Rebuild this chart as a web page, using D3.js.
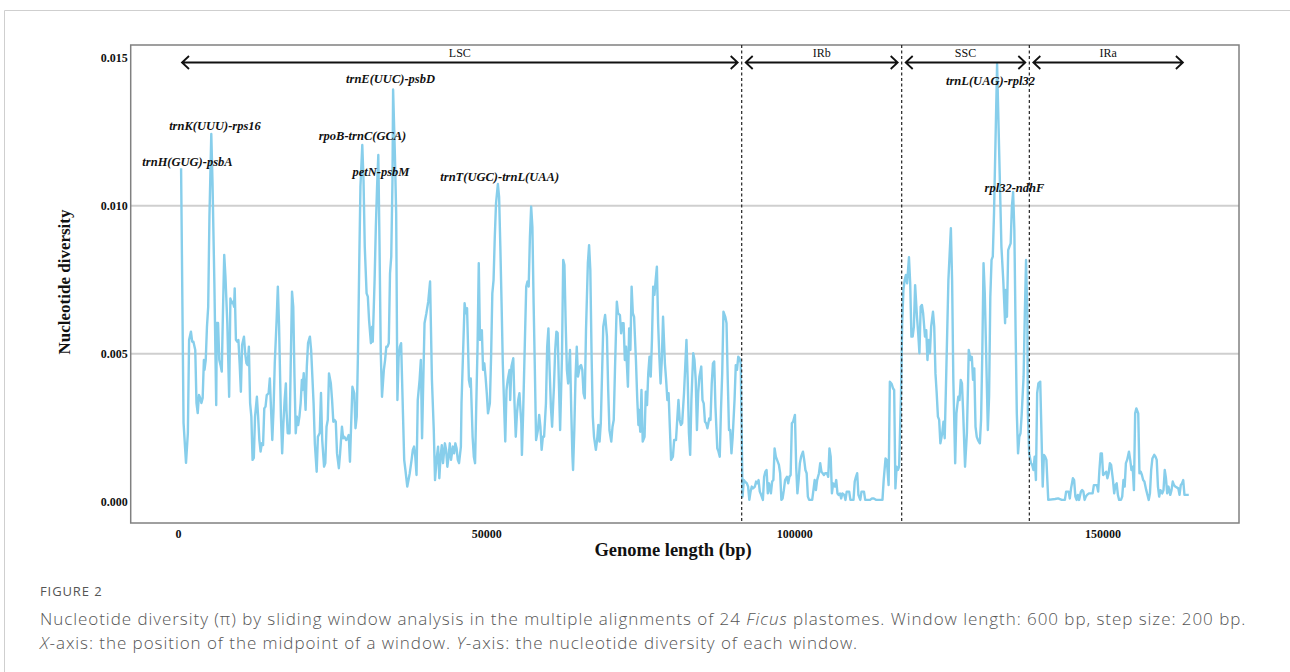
<!DOCTYPE html>
<html>
<head>
<meta charset="utf-8">
<script src="https://cdn.jsdelivr.net/npm/d3@7"></script>
<style>
  body { margin: 0; background: #fff; }
  svg { display: block; }
  .serif { font-family: "Liberation Serif", "DejaVu Serif", serif; }
  .cap { font-family: "Open Sans", "Lato", sans-serif; fill: #555; }
</style>
</head>
<body>
<svg id="chart" width="1290" height="672"></svg>
<script>
// sliding window midpoints (bp) and nucleotide diversity
var lsc = [[500,0.01126],[900,0.00267],[1300,0.00132],[1600,0.00233],[1800,0.00547],[2100,0.00575],[2300,0.00541],[2500,0.00541],[2800,0.00513],[3000,0.00334],[3200,0.00300],[3400,0.00361],[3600,0.00351],[3800,0.00334],[4000,0.00351],[4200,0.00479],[4300,0.00446],[4500,0.00479],[4700,0.00592],[4900,0.00659],[5100,0.00963],[5400,0.01242],[5600,0.01077],[5900,0.00739],[6200,0.00327],[6300,0.00604],[6500,0.00604],[6700,0.00479],[6900,0.00462],[7100,0.00440],[7300,0.00648],[7500,0.00834],[7700,0.00760],[8000,0.00603],[8300,0.00355],[8500,0.00687],[8700,0.00671],[8900,0.00676],[9100,0.00659],[9200,0.00721],[9400,0.00547],[9600,0.00541],[9800,0.00547],[10000,0.00468],[10200,0.00372],[10400,0.00530],[10700,0.00558],[10900,0.00502],[11100,0.00469],[11300,0.00462],[11500,0.00524],[11700,0.00334],[11900,0.00288],[12100,0.00142],[12300,0.00149],[12500,0.00288],[12800,0.00355],[13000,0.00288],[13200,0.00209],[13400,0.00170],[13600,0.00198],[13800,0.00192],[14000,0.00316],[14200,0.00322],[14400,0.00361],[14700,0.00367],[14900,0.00417],[15100,0.00311],[15300,0.00209],[15500,0.00311],[15700,0.00468],[16000,0.00614],[16200,0.00727],[16400,0.00592],[16700,0.00288],[16900,0.00164],[17100,0.00266],[17300,0.00344],[17500,0.00400],[17600,0.00311],[17800,0.00232],[18100,0.00232],[18300,0.00479],[18500,0.00710],[18700,0.00659],[18900,0.00423],[19100,0.00232],[19300,0.00288],[19500,0.00260],[19700,0.00288],[19900,0.00334],[20100,0.00412],[20200,0.00378],[20400,0.00435],[20600,0.00355],[20700,0.00311],[20900,0.00457],[21100,0.00536],[21400,0.00558],[21600,0.00513],[21800,0.00423],[22000,0.00333],[22200,0.00198],[22500,0.00102],[22700,0.00220],[23000,0.00233],[23200,0.00368],[23400,0.00209],[23700,0.00119],[23900,0.00131],[24100,0.00254],[24300,0.00277],[24500,0.00434],[24800,0.00400],[25000,0.00344],[25200,0.00271],[25400,0.00277],[25600,0.00271],[25800,0.00164],[26100,0.00114],[26300,0.00164],[26600,0.00254],[26800,0.00215],[27000,0.00220],[27300,0.00209],[27500,0.00215],[27700,0.00226],[27900,0.00136],[28100,0.00266],[28300,0.00389],[28600,0.00367],[28800,0.00249],[29000,0.00288],[29200,0.00502],[29400,0.00794],[29600,0.01064],[29900,0.01205],[30100,0.01087],[30300,0.00862],[30600,0.00704],[30800,0.00693],[31000,0.00614],[31300,0.00536],[31500,0.00592],[31600,0.00541],[31900,0.00749],[32100,0.00929],[32300,0.01064],[32500,0.01171],[32700,0.00862],[32900,0.00502],[33100,0.00355],[33400,0.00446],[33600,0.00479],[33800,0.00524],[34000,0.00524],[34200,0.00536],[34400,0.00772],[34600,0.00828],[34800,0.01087],[34900,0.01392],[35200,0.01165],[35400,0.00974],[35600,0.00344],[35800,0.00490],[36000,0.00524],[36200,0.00536],[36500,0.00299],[36700,0.00142],[36900,0.00108],[37200,0.00052],[37400,0.00074],[37600,0.00097],[37900,0.00142],[38100,0.00176],[38300,0.00187],[38500,0.00153],[38700,0.00091],[38900,0.00344],[39200,0.00412],[39400,0.00479],[39600,0.00215],[39800,0.00412],[40000,0.00603],[40300,0.00637],[40600,0.00676],[40900,0.00744],[41200,0.00412],[41500,0.00243],[41700,0.00074],[42000,0.00153],[42200,0.00187],[42400,0.00080],[42600,0.00153],[42800,0.00192],[43000,0.00131],[43300,0.00198],[43500,0.00176],[43700,0.00119],[43900,0.00153],[44100,0.00198],[44300,0.00142],[44600,0.00187],[44800,0.00164],[45000,0.00198],[45200,0.00181],[45400,0.00142],[45600,0.00131],[45900,0.00187],[46000,0.00333],[46300,0.00536],[46500,0.00671],[46700,0.00637],[46900,0.00654],[47200,0.00412],[47400,0.00389],[47500,0.00417],[47800,0.00220],[48000,0.00153],[48200,0.00131],[48400,0.00333],[48600,0.00524],[48800,0.00806],[49000,0.00547],[49300,0.00580],[49500,0.00446],[49700,0.00468],[49900,0.00423],[50100,0.00367],[50300,0.00299],[50600,0.00333],[50800,0.00490],[51000,0.00704],[51200,0.00749],[51400,0.00895],[51600,0.01008],[51900,0.01073],[52100,0.01030],[52300,0.00862],[52500,0.00671],[52700,0.00468],[52900,0.00333],[53100,0.00204],[53300,0.00378],[53500,0.00412],[53800,0.00446],[53900,0.00344],[54100,0.00457],[54400,0.00485],[54600,0.00333],[54800,0.00220],[55000,0.00299],[55200,0.00344],[55400,0.00367],[55700,0.00266],[55800,0.00159],[56000,0.00299],[56300,0.00558],[56500,0.00727],[56700,0.00744],[56900,0.00727],[57100,0.00895],[57300,0.00997],[57500,0.00929],[57700,0.00671],[57900,0.00446],[58100,0.00209],[58400,0.00243],[58600,0.00294],[58800,0.00254],[59000,0.00176],[59200,0.00220],[59400,0.00220],[59700,0.00333],[59900,0.00524],[60100,0.00586],[60300,0.00446],[60500,0.00322],[60700,0.00254],[61000,0.00389],[61200,0.00513],[61400,0.00575],[61600,0.00570],[61800,0.00400],[62000,0.00243],[62300,0.00490],[62500,0.00817],[62700,0.00800],[62900,0.00603],[63100,0.00446],[63300,0.00400],[63600,0.00513],[63800,0.00311],[64000,0.00153],[64100,0.00108],[64300,0.00243],[64500,0.00423],[64700,0.00524],[64900,0.00423],[65200,0.00457],[65400,0.00462],[65600,0.00446],[65800,0.00367],[66000,0.00350],[66200,0.00580],[66500,0.00806],[66700,0.00867],[66900,0.00783],[67100,0.00502],[67300,0.00288],[67500,0.00220],[67800,0.00176],[68000,0.00209],[68200,0.00260],[68400,0.00204],[68600,0.00266],[69000,0.00592],[69300,0.00631],[69600,0.00558],[69800,0.00378],[70000,0.00243],[70300,0.00204],[70500,0.00254],[70700,0.00277],[70900,0.00446],[71200,0.00676],[71400,0.00637],[71700,0.00631],[71900,0.00569],[72100,0.00603],[72300,0.00603],[72500,0.00479],[72700,0.00524],[73000,0.00389],[73200,0.00586],[73400,0.00513],[73600,0.00727],[73800,0.00637],[74000,0.00625],[74300,0.00479],[74500,0.00355],[74700,0.00260],[74800,0.00311],[75000,0.00237],[75200,0.00378],[75400,0.00204],[75700,0.00220],[75900,0.00372],[76100,0.00327],[76300,0.00434],[76500,0.00490],[76700,0.00423],[76900,0.00547],[77100,0.00727],[77300,0.00699],[77500,0.00749],[77700,0.00794],[77900,0.00603],[78100,0.00490],[78300,0.00400],[78500,0.00479],[78700,0.00625],[79000,0.00468],[79200,0.00412],[79400,0.00344],[79600,0.00367],[79800,0.00254],[80000,0.00142],[80300,0.00153],[80500,0.00209],[80800,0.00209],[81000,0.00277],[81200,0.00344],[81400,0.00277],[81600,0.00260],[81800,0.00266],[82100,0.00367],[82300,0.00457],[82500,0.00547],[82700,0.00412],[82900,0.00232],[83100,0.00159],[83300,0.00344],[83600,0.00502],[83800,0.00479],[84000,0.00412],[84200,0.00243],[84400,0.00367],[84600,0.00423],[84900,0.00457],[85100,0.00344],[85300,0.00333],[85500,0.00271],[85700,0.00266],[85900,0.00249],[86200,0.00282],[86400,0.00277],[86600,0.00400],[86800,0.00468],[87000,0.00474],[87200,0.00322],[87500,0.00181],[87700,0.00170],[87900,0.00153],[88100,0.00311],[88300,0.00434],[88500,0.00642],[88800,0.00625],[89000,0.00603],[89200,0.00412],[89400,0.00243],[89600,0.00243],[89800,0.00164],[90000,0.00220],[90300,0.00344],[90500,0.00462],[90700,0.00446],[90900,0.00490],[91100,0.00485],[91300,0.00468]];

var irb = [[91600,0.00018],[91800,0.00074],[92000,0.00069],[92300,0.00063],[92500,0.00052],[92700,0.00007],[92900,0.00035],[93100,0.00052],[93300,0.00046],[93600,0.00052],[93800,0.00069],[94000,0.00063],[94200,0.00074],[94400,0.00035],[94600,0.00025],[94900,0.00007],[95100,0.00085],[95300,0.00102],[95500,0.00108],[95700,0.00029],[95900,0.00063],[96200,0.00029],[96400,0.00069],[96600,0.00074],[96800,0.00181],[97000,0.00153],[97200,0.00142],[97500,0.00125],[97700,0.00097],[97900,0.00007],[98100,0.00012],[98300,0.00040],[98500,0.00074],[98800,0.00085],[99000,0.00063],[99200,0.00085],[99400,0.00091],[99600,0.00266],[99800,0.00271],[100100,0.00294],[100300,0.00119],[100500,0.00029],[100700,0.00074],[100900,0.00131],[101100,0.00153],[101400,0.00170],[101600,0.00142],[101800,0.00108],[102000,0.00097],[102200,0.00018],[102400,0.00007],[102700,0.00007],[102900,0.00007],[103100,0.00040],[103300,0.00074],[103500,0.00040],[103700,0.00074],[104000,0.00097],[104200,0.00131],[104400,0.00102],[104600,0.00097],[104800,0.00091],[105000,0.00097],[105300,0.00097],[105500,0.00085],[105700,0.00181],[105900,0.00153],[106100,0.00029],[106300,0.00063],[106600,0.00052],[106800,0.00074],[107000,0.00029],[107200,0.00024],[107400,0.00029],[107600,0.00012],[107800,0.00029],[108100,0.00024],[108300,0.00007],[108500,0.00035],[108700,0.00035],[108900,0.00035],[109100,0.00007],[109600,0.00007],[109800,0.00069],[110000,0.00085],[110200,0.00097],[110400,0.00024],[110700,0.00007],[110900,0.00035],[111300,0.00035],[111500,0.00007],[112300,0.00007],[112600,0.00012],[112900,0.00012],[113300,0.00007],[114300,0.00007],[114500,0.00074],[114800,0.00147],[115000,0.00142],[115300,0.00057],[115500,0.00406],[115800,0.00398],[116000,0.00384],[116200,0.00378],[116400,0.00046],[116600,0.00119],[116800,0.00108],[117000,0.00119]];

var ssc = [[117300,0.00355],[117500,0.00603],[117700,0.00716],[117900,0.00749],[118100,0.00766],[118300,0.00738],[118600,0.00826],[118800,0.00738],[119000,0.00558],[119200,0.00558],[119400,0.00592],[119600,0.00732],[119900,0.00625],[120100,0.00569],[120300,0.00502],[120500,0.00659],[120700,0.00665],[120900,0.00637],[121200,0.00558],[121400,0.00580],[121600,0.00479],[121800,0.00547],[122000,0.00502],[122200,0.00592],[122500,0.00642],[122700,0.00592],[122900,0.00434],[123100,0.00367],[123300,0.00288],[123500,0.00277],[123700,0.00198],[124000,0.00232],[124200,0.00271],[124400,0.00215],[124600,0.00389],[124800,0.00569],[125000,0.00749],[125400,0.00924],[125600,0.00749],[125800,0.00412],[126100,0.00131],[126300,0.00299],[126600,0.00355],[126800,0.00344],[127000,0.00412],[127200,0.00400],[127400,0.00299],[127700,0.00119],[128000,0.00232],[128200,0.00412],[128300,0.00513],[128600,0.00479],[128800,0.00490],[129000,0.00412],[129200,0.00451],[129400,0.00254],[129600,0.00220],[129800,0.00209],[130100,0.00198],[130300,0.00277],[130500,0.00502],[130700,0.00806],[130900,0.00704],[131100,0.00524],[131400,0.00243],[131600,0.00355],[131800,0.00693],[132000,0.00817],[132200,0.00828],[132400,0.00974],[132900,0.01478],[133600,0.00862],[133900,0.00749],[134200,0.00603],[134300,0.00716],[134500,0.00625],[134700,0.00850],[134900,0.00862],[135100,0.00873],[135300,0.00997],[135500,0.01046],[135700,0.00918],[135900,0.00580],[136100,0.00299],[136300,0.00164],[136500,0.00220],[136700,0.00232],[136900,0.00299],[137200,0.00423],[137400,0.00637],[137600,0.00817],[137800,0.00637],[137900,0.00299]];

var ira = [[138100,0.00164],[138400,0.00131],[138600,0.00125],[138800,0.00108],[139000,0.00153],[139200,0.00074],[139400,0.00367],[139600,0.00400],[139900,0.00406],[140100,0.00232],[140300,0.00052],[140500,0.00159],[140700,0.00153],[140900,0.00142],[141200,0.00007],[142300,0.00010],[142800,0.00012],[143400,0.00007],[143900,0.00007],[144100,0.00035],[144500,0.00035],[144700,0.00012],[144900,0.00046],[145200,0.00080],[145400,0.00074],[145600,0.00018],[145800,0.00007],[146000,0.00024],[146200,0.00007],[146500,0.00035],[146700,0.00040],[146900,0.00035],[147100,0.00007],[147300,0.00018],[147500,0.00024],[147800,0.00029],[148400,0.00029],[148600,0.00057],[149100,0.00057],[149300,0.00035],[149500,0.00108],[149700,0.00164],[149900,0.00164],[150100,0.00091],[150400,0.00097],[150600,0.00102],[150800,0.00080],[151000,0.00097],[151200,0.00131],[151400,0.00125],[151700,0.00074],[151900,0.00029],[152100,0.00057],[152300,0.00063],[152500,0.00024],[152700,0.00007],[153000,0.00007],[153200,0.00018],[153400,0.00074],[153600,0.00052],[153800,0.00131],[154000,0.00142],[154300,0.00170],[154500,0.00142],[154700,0.00108],[154900,0.00119],[155100,0.00040],[155300,0.00299],[155500,0.00316],[155800,0.00299],[156000,0.00097],[156200,0.00102],[156400,0.00091],[156600,0.00074],[156800,0.00069],[157100,0.00040],[157300,0.00024],[157500,0.00007],[157700,0.00029],[157900,0.00108],[158100,0.00147],[158400,0.00159],[158600,0.00153],[158800,0.00142],[159000,0.00052],[159200,0.00018],[159400,0.00040],[159700,0.00029],[159900,0.00040],[160100,0.00108],[160300,0.00080],[160500,0.00029],[160700,0.00052],[161000,0.00024],[161200,0.00040],[161400,0.00069],[161600,0.00057],[161800,0.00052],[162300,0.00046],[162500,0.00024],[162700,0.00057],[162900,0.00063],[163100,0.00074],[163300,0.00024],[164000,0.00024]];

// region boundaries (bp)
var regionNames = ["LSC", "IRb", "SSC", "IRa"];
var regionBounds = [0, 91460, 117420, 138130, 163700];

// hotspot labels: name, anchor position (bp), label level (pi)
var hotspots = [
  ["trnH(GUG)-psbA", 1540, 0.01134],
  ["trnK(UUU)-rps16", 6000, 0.01256],
  ["rpoB-trnC(GCA)", 29940, 0.01222],
  ["trnE(UUC)-psbD", 34480, 0.01413],
  ["petN-psbM", 32940, 0.01100],
  ["trnT(UGC)-trnL(UAA)", 52200, 0.01083],
  ["trnL(UAG)-rpl32", 131830, 0.01407],
  ["rpl32-ndhF", 135720, 0.01046]
];

var yTicks = [0, 0.005, 0.010, 0.015];
var xTicks = [0, 50000, 100000, 150000];
var gridValues = [0.005, 0.010];

var svg = d3.select("#chart");
var L = 130.7, R = 1239, T = 45, B = 523;

var x = d3.scaleLinear().domain([-7675, 172150]).range([L, R]);
var y = d3.scaleLinear().domain([-0.000709, 0.015423]).range([B, T]);

// card frame
svg.append("path").attr("d", "M4.5,672V10.5H1290")
  .attr("fill", "none").attr("stroke", "#cfcfcf").attr("stroke-width", 1);

// grid
svg.selectAll(".grid").data(gridValues).enter().append("line")
  .attr("class", "grid")
  .attr("x1", L).attr("x2", R)
  .attr("y1", function(d){ return y(d); }).attr("y2", function(d){ return y(d); })
  .attr("stroke", "#cfcfcf").attr("stroke-width", 2);

// line
var windows = lsc.concat(irb, ssc, ira);
var line = d3.line().x(function(d){ return x(d[0]); }).y(function(d){ return y(d[1]); });
svg.append("path").datum(windows)
  .attr("d", line)
  .attr("fill", "none")
  .attr("stroke", "#87CEEB")
  .attr("stroke-width", 2.4)
  .attr("stroke-linejoin", "round");

// plot frame
svg.append("rect").attr("x", L).attr("y", T).attr("width", R - L).attr("height", B - T)
  .attr("fill", "none").attr("stroke", "#808080").attr("stroke-width", 1.5);

// region boundaries
svg.selectAll(".bound").data(regionBounds.slice(1, 4)).enter().append("line")
  .attr("class", "bound")
  .attr("x1", function(d){ return x(d); }).attr("x2", function(d){ return x(d); })
  .attr("y1", T).attr("y2", B)
  .attr("stroke", "#222").attr("stroke-width", 1.2).attr("stroke-dasharray", "3,2.5");

// region arrows
var ay = 62.5;
var regions = regionNames.map(function(n, i){ return {name: n, a: regionBounds[i], b: regionBounds[i + 1]}; });
var rg = svg.selectAll(".region").data(regions).enter().append("g").attr("class", "region");
rg.append("path")
  .attr("d", function(d){
    var x1 = x(d.a) + 4, x2 = x(d.b) - 4;
    return "M" + x1 + "," + ay + "H" + x2 +
      "M" + (x1 + 7) + "," + (ay - 6.5) + "L" + x1 + "," + ay + "L" + (x1 + 7) + "," + (ay + 6.5) +
      "M" + (x2 - 7) + "," + (ay - 6.5) + "L" + x2 + "," + ay + "L" + (x2 - 7) + "," + (ay + 6.5);
  })
  .attr("fill", "none").attr("stroke", "#111").attr("stroke-width", 1.8);
rg.append("text").attr("class", "serif")
  .attr("x", function(d){ return (x(d.a) + x(d.b)) / 2; })
  .attr("y", 57)
  .attr("text-anchor", "middle")
  .attr("font-size", 12).attr("fill", "#111")
  .text(function(d){ return d.name; });

// axes
var yAxis = svg.append("g").attr("transform", "translate(" + L + ",0)")
  .call(d3.axisLeft(y).tickValues(yTicks).tickFormat(d3.format(".3f")).tickSize(0).tickPadding(3));
var xAxis = svg.append("g").attr("transform", "translate(0," + B + ")")
  .call(d3.axisBottom(x).tickValues(xTicks).tickFormat(d3.format("d")).tickSize(0).tickPadding(6));
[yAxis, xAxis].forEach(function(g){
  g.select(".domain").remove();
  g.selectAll("text").attr("class", "serif").attr("font-size", 12).attr("font-weight", "bold").attr("fill", "#111");
});

// hotspot labels
svg.selectAll(".hot").data(hotspots).enter().append("text")
  .attr("class", "serif")
  .attr("x", function(d){ return x(d[1]); })
  .attr("y", function(d){ return y(d[2]); })
  .attr("text-anchor", "middle")
  .attr("font-size", 12.5).attr("font-weight", "bold").attr("font-style", "italic").attr("fill", "#111")
  .text(function(d){ return d[0]; });

// axis titles
svg.append("text").attr("class", "serif")
  .attr("transform", "translate(70,282) rotate(-90)")
  .attr("text-anchor", "middle").attr("font-size", 17).attr("font-weight", "bold").attr("fill", "#111")
  .text("Nucleotide diversity");
svg.append("text").attr("class", "serif")
  .attr("x", 673).attr("y", 556)
  .attr("text-anchor", "middle").attr("font-size", 18.5).attr("font-weight", "bold").attr("fill", "#111")
  .text("Genome length (bp)");

// caption
svg.append("text").attr("class", "cap").attr("x", 40).attr("y", 596)
  .attr("font-size", 13).attr("letter-spacing", 0.9).attr("fill", "#666").text("FIGURE 2");
var c1 = svg.append("text").attr("class", "cap").attr("x", 40).attr("y", 625)
  .attr("font-size", 17).attr("letter-spacing", 0.95).attr("font-weight", 300);
c1.append("tspan").text("Nucleotide diversity (\u03c0) by sliding window analysis in the multiple alignments of 24 ");
c1.append("tspan").attr("font-style", "italic").text("Ficus");
c1.append("tspan").text(" plastomes. Window length: 600 bp, step size: 200 bp.");
var c2 = svg.append("text").attr("class", "cap").attr("x", 40).attr("y", 649)
  .attr("font-size", 17).attr("letter-spacing", 0.95).attr("font-weight", 300);
c2.append("tspan").attr("font-style", "italic").text("X");
c2.append("tspan").text("-axis: the position of the midpoint of a window. ");
c2.append("tspan").attr("font-style", "italic").text("Y");
c2.append("tspan").text("-axis: the nucleotide diversity of each window.");
</script>
</body>
</html>
